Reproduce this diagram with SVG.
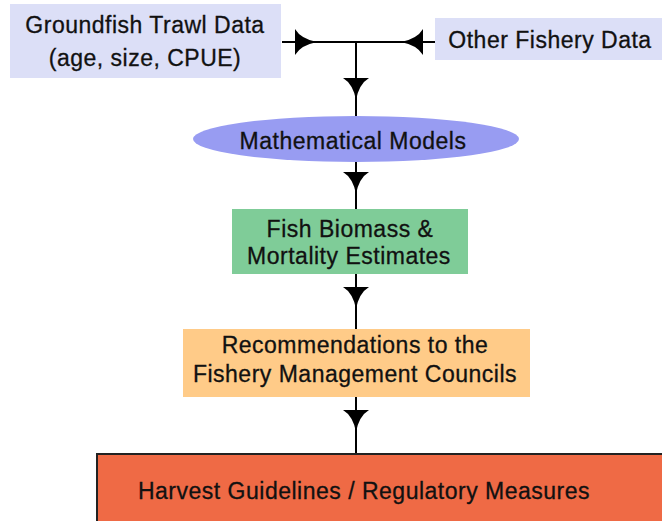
<svg xmlns="http://www.w3.org/2000/svg" width="662" height="521" viewBox="0 0 662 521">
<style>
.t{font-family:"Liberation Sans",Arial,sans-serif;font-size:23px;letter-spacing:0.5px;fill:#111;stroke:#111;stroke-width:0.3;text-anchor:middle}
.ln{stroke:#000;stroke-width:2;fill:none}
</style>
<defs>
<path id="ah" d="M-13,0 L13,0 Q3,6 0,22 Q-3,6 -13,0 Z" fill="#000"/>
</defs>
<rect width="662" height="521" fill="#fff"/>
<g id="connectors">
<path class="ln" d="M282,42 H435 M356,42 V117 M356,162 V209 M356,274 V329 M356,397 V453"/>
<use href="#ah" transform="translate(295,42) rotate(-90)"/>
<use href="#ah" transform="translate(423,42) rotate(90)"/>
<use href="#ah" transform="translate(356,78)"/>
<use href="#ah" transform="translate(356,172)"/>
<use href="#ah" transform="translate(356,287)"/>
<use href="#ah" transform="translate(356,410)"/>
</g>
<g id="groundfish">
<rect x="10" y="4" width="271" height="74" fill="#dcdff7"/>
<text class="t" x="145" y="33">Groundfish Trawl Data</text>
<text class="t" x="145" y="66">(age, size, CPUE)</text>
</g>
<g id="other">
<rect x="435" y="18" width="227" height="42" fill="#dcdff7"/>
<text class="t" x="550" y="48">Other Fishery Data</text>
</g>
<g id="models">
<ellipse cx="356" cy="139" rx="163" ry="23" fill="#989cf2"/>
<text class="t" x="353" y="149">Mathematical Models</text>
</g>
<g id="biomass">
<rect x="232" y="209" width="236" height="65" fill="#7fcc98"/>
<text class="t" x="350" y="237">Fish Biomass &amp;</text>
<text class="t" x="349" y="264">Mortality Estimates</text>
</g>
<g id="recommendations">
<rect x="183" y="329" width="347" height="68" fill="#ffcb88"/>
<text class="t" x="355" y="353">Recommendations to the</text>
<text class="t" x="355" y="382">Fishery Management Councils</text>
</g>
<g id="harvest">
<rect x="97" y="454" width="570" height="72" fill="#ef6a45" stroke="#222" stroke-width="2"/>
<text class="t" x="364" y="499">Harvest Guidelines / Regulatory Measures</text>
</g>
</svg>
